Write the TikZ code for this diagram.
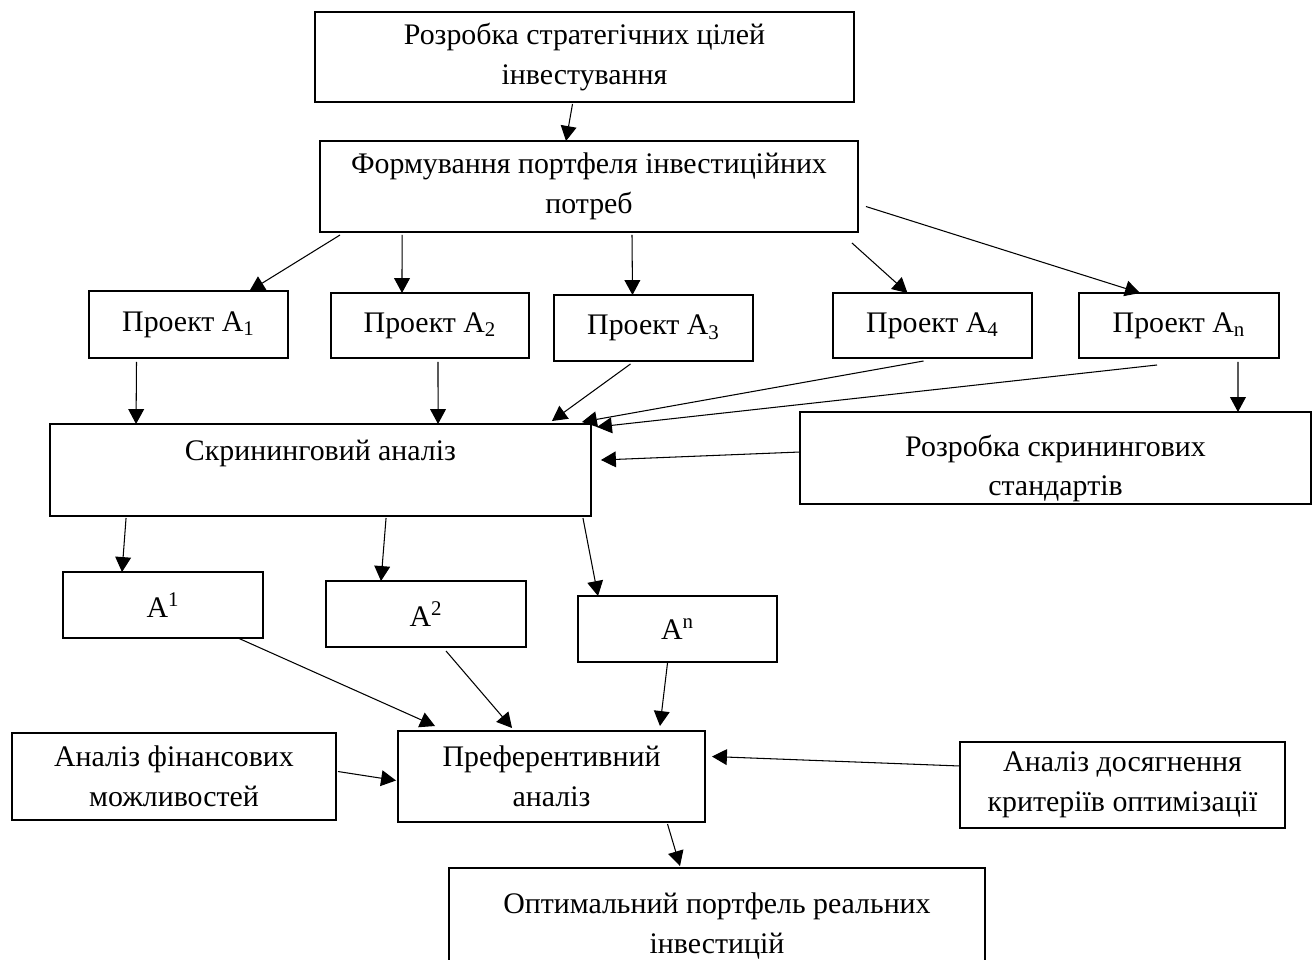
\documentclass[tikz,border=0pt]{standalone}
\usepackage{fontspec}
\setmainfont{Liberation Serif}
\usetikzlibrary{arrows.meta,calc}

\begin{document}
\begin{tikzpicture}[x=0.02cm,y=-0.02cm,>={Triangle[length=8.5pt,width=9pt]},
  blok/.style={draw,line width=1.3pt,inner sep=0pt,outer sep=0pt,align=center,
    font=\fontsize{17}{22.5}\selectfont},
  strilka/.style={->,line width=0.6pt}]

  \useasboundingbox (0,0) rectangle (1315,960);

  % Top levels
  \node[blok,minimum width=10.78cm,minimum height=1.8cm] (cili) at (584.5,57)
    {Розробка стратегічних цілей\\інвестування};
  \node[blok,minimum width=10.76cm,minimum height=1.82cm] (potreby) at (589,186.5)
    {Формування портфеля інвестиційних\\потреб};

  % Projects
  \node[blok,minimum width=3.98cm,minimum height=1.34cm] (pa1) at (188.5,324.5) {Проект A\textsubscript{1}};
  \node[blok,minimum width=3.96cm,minimum height=1.3cm] (pa2) at (430,325.5) {Проект A\textsubscript{2}};
  \node[blok,minimum width=3.98cm,minimum height=1.32cm] (pa3) at (653.5,328) {Проект A\textsubscript{3}};
  \node[blok,minimum width=3.98cm,minimum height=1.3cm] (pa4) at (932.5,325.5) {Проект A\textsubscript{4}};
  \node[blok,minimum width=4cm,minimum height=1.3cm] (pan) at (1179,325.5) {Проект A\textsubscript{n}};

  % Screening
  \node[blok,minimum width=10.82cm,minimum height=1.84cm] (skrin) at (320.5,470)
    {Скрининговий аналіз\\~};
  \node[blok,minimum width=10.22cm,minimum height=1.84cm] (standarty) at (1055.5,458)
    {\raisebox{-6pt}[\height][\depth]{\parbox{9cm}{\centering Розробка скринингових\\стандартів}}};

  % Selected projects
  \node[blok,minimum width=4cm,minimum height=1.32cm] (a1) at (163,605) {A\textsuperscript{1}};
  \node[blok,minimum width=4cm,minimum height=1.32cm] (a2) at (426,614) {A\textsuperscript{2}};
  \node[blok,minimum width=3.98cm,minimum height=1.32cm] (an) at (677.5,629) {A\textsuperscript{n}};

  % Preferential analysis
  \node[blok,minimum width=6.48cm,minimum height=1.74cm] (finansy) at (174,776.5)
    {Аналіз фінансових\\можливостей};
  \node[blok,minimum width=6.14cm,minimum height=1.82cm] (pref) at (551.5,776.5)
    {Преферентивний\\аналіз};
  \node[blok,minimum width=6.5cm,minimum height=1.72cm] (kryterii) at (1122.5,785)
    {Аналіз досягнення\\критеріїв оптимізації};
  \node[blok,minimum width=10.72cm,minimum height=2.32cm] (optim) at (717,926)
    {Оптимальний портфель реальних\\інвестицій};

  % Arrows
  \draw[strilka] ($(cili.south)+(-12,2)$) -- ($(potreby.north)+(-23,0)$);
  \draw[strilka] ($(potreby.south west)+(20,3)$) -- ($(pa1.north)+(61,0)$);
  \draw[strilka] ($(potreby.south west)+(82,3)$) -- ($(pa2.north)+(-28,0)$);
  \draw[strilka] ($(potreby.south)+(43,3)$) -- ($(pa3.north)+(-21,0)$);
  \draw[strilka] ($(potreby.south east)+(-6,11)$) -- ($(pa4.north)+(-25,0)$);
  \draw[strilka] ($(potreby.east)+(8,20)$) -- ($(pan.north)+(-39,0)$);

  \draw[strilka] ($(pa1.south)+(-52,4)$) -- ($(skrin.north west)+(86,0)$);
  \draw[strilka] ($(pa2.south)+(8,4)$) -- ($(skrin.north west)+(388,0)$);
  \draw[strilka] ($(pa3.south)+(-23,3)$) -- ($(skrin.north east)+(-39,-3)$);
  \draw[strilka] ($(pa4.south)+(-9,3)$) -- ($(skrin.north east)+(-9,-2)$);
  \draw[strilka] ($(pan.south)+(-22,7)$) -- ($(skrin.north east)+(6,3)$);
  \draw[strilka] ($(pan.south east)+(-41,4)$) -- ($(standarty.north east)+(-73,0)$);
  \draw[strilka] ($(standarty.west)+(0,-6)$) -- ($(skrin.east)+(10,-10)$);

  \draw[strilka] ($(skrin.south west)+(76,2)$) -- ($(a1.north)+(-41,0)$);
  \draw[strilka] ($(skrin.south west)+(336,2)$) -- ($(a2.north)+(-45,0)$);
  \draw[strilka] ($(skrin.south east)+(-8,2)$) -- ($(an.north west)+(20,0)$);

  \draw[strilka] ($(a1.south east)+(-25,0)$) -- ($(pref.north west)+(37,-5)$);
  \draw[strilka] ($(a2.south west)+(120,4)$) -- ($(pref.north west)+(114,-3)$);
  \draw[strilka] ($(an.south)+(-10,1)$) -- ($(pref.north east)+(-45,-5)$);
  \draw[strilka] ($(finansy.east)+(2,-5)$) -- ($(pref.west)+(-2,4)$);
  \draw[strilka] ($(kryterii.west)+(0,-19)$) -- ($(pref.east)+(7,-20)$);
  \draw[strilka] ($(pref.south)+(116,2)$) -- ($(optim.north)+(-37,-2)$);

\end{tikzpicture}
\end{document}
